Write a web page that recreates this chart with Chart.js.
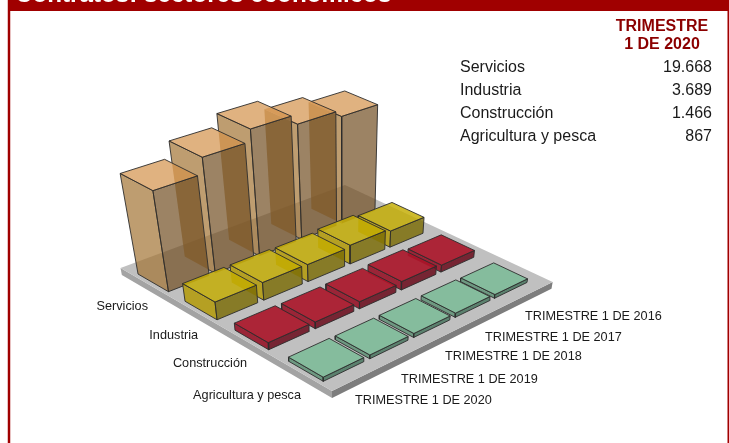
<!DOCTYPE html>
<html><head><meta charset="utf-8">
<style>html,body{margin:0;padding:0;background:#fff}canvas{display:block}</style>
<script src="https://cdn.jsdelivr.net/npm/chart.js@4"></script>
</head><body>
<canvas id="c" width="729" height="443"></canvas>
<script>
const sectors = ["Servicios","Industria","Construcción","Agricultura y pesca"];
const quarters = ["TRIMESTRE 1 DE 2020","TRIMESTRE 1 DE 2019","TRIMESTRE 1 DE 2018","TRIMESTRE 1 DE 2017","TRIMESTRE 1 DE 2016"];
const servicios = [19668,22600,24800,23000,21800];
const industria = [3689,3700,3600,4000,3500];
const construccion = [1466,1400,1500,1800,1500];
const agricultura = [867,800,850,900,800];
const tableValues = ["19.668","3.689","1.466","867"];
const seriesValues = [servicios,industria,construccion,agricultura];

const palette = [
 {top:'rgba(211,146,74,.7)', left:'rgba(162,115,51,.7)', right:'rgba(114,79,34,.7)'},
 {top:'rgba(195,172,0,.82)', left:'rgba(178,152,0,.82)', right:'rgba(122,107,5,.82)'},
 {top:'rgba(170,20,40,.9)', left:'rgba(150,20,40,.9)', right:'rgba(110,20,35,.9)'},
 {top:'rgba(130,188,155,.95)', left:'rgba(105,150,125,.95)', right:'rgba(85,125,105,.95)'}
];

// camera: floor corners and vertical vanishing point (page pixels)
const A=[120.5,268],D=[345,185],C=[552.7,282],B=[332,391],VP=[344,1429];
const gain=4.05e-6, floorDepth=-1500;
const sx=A[0]-D[0]+C[0]-B[0], sy=A[1]-D[1]+C[1]-B[1];
const dx1=D[0]-C[0],dx2=B[0]-C[0],dy1=D[1]-C[1],dy2=B[1]-C[1];
const den=dx1*dy2-dx2*dy1;
const g=(sx*dy2-dx2*sy)/den,h=(dx1*sy-sx*dy1)/den;
const a=D[0]-A[0]+g*D[0],b=B[0]-A[0]+h*B[0],c0=A[0];
const d=D[1]-A[1]+g*D[1],e=B[1]-A[1]+h*B[1],f0=A[1];
function project(u,v,val){
  const X=a*u+b*v+c0-gain*val*VP[0],Y=d*u+e*v+f0-gain*val*VP[1],Z=g*u+h*v+1-gain*val;
  return {x:X/Z,y:Y/Z};
}
const uStart=.017,uPitch=.188,uSize=.163;
const rowNear=[.07,.31,.551,.795],rowFar=[.227,.466,.706,.945];
const stroke='rgba(45,45,45,.9)';
function face(pts,fill,line,masks){
  return {data:pts.concat([pts[0]]),showLine:true,fill:'shape',backgroundColor:fill,frontMasks:masks||[],
    borderColor:line||'rgba(0,0,0,0)',borderWidth:line?1:0,pointRadius:0,pointHoverRadius:0,tension:0};
}
const layers=[];
layers.push(face([project(0,1,0),project(1,1,0),project(1,1,floorDepth),project(0,1,floorDepth)],'#7d7d7d'));
layers.push(face([project(0,0,0),project(0,1,0),project(0,1,floorDepth),project(0,0,floorDepth)],'#a3a3a3'));
layers.push(face([project(0,0,0),project(1,0,0),project(1,1,0),project(0,1,0)],'#c0c0c0'));
// bars, back to front; each bar's edges are hidden behind the bars drawn after it
const bars=[];
sectors.forEach((s,j)=>{
  for(let i=quarters.length-1;i>=0;i--){
    const u0=uStart+i*uPitch,u1=u0+uSize,v0=rowNear[j],v1=rowFar[j],val=seriesValues[j][i];
    bars.push({u0,u1,v0,v1,val,col:palette[j],outline:[project(u0,v0,val),project(u1,v0,val),project(u1,v1,val),project(u1,v1,0),project(u0,v1,0),project(u0,v0,0)]});
  }
});
bars.forEach((r,n)=>{
  const masks=bars.slice(n+1).map(o=>o.outline),{u0,u1,v0,v1,val,col}=r;
  layers.push(face([project(u0,v0,0),project(u0,v1,0),project(u0,v1,val),project(u0,v0,val)],col.left,stroke,masks));
  layers.push(face([project(u0,v1,0),project(u1,v1,0),project(u1,v1,val),project(u0,v1,val)],col.right,stroke,masks));
  layers.push(face([project(u0,v0,val),project(u1,v0,val),project(u1,v1,val),project(u0,v1,val)],col.top,stroke,masks));
});
const sectorLabelAnchors=[[148,306],[198,335],[247,363],[301,395]];
const quarterLabelAnchors=[[355,400],[401,379],[445,356],[485,337],[525,316]];
const frame={
 id:'frame',
 beforeDatasetDraw(ch,args){
  const ds=ch.data.datasets[args.index],x=ch.ctx,sX=ch.scales.x,sY=ch.scales.y;
  x.save();
  ds.frontMasks.forEach(poly=>{
    x.beginPath();x.rect(0,0,ch.width,ch.height);
    poly.forEach((p,k)=>{const px=sX.getPixelForValue(p.x),py=sY.getPixelForValue(p.y);k?x.lineTo(px,py):x.moveTo(px,py);});
    x.closePath();x.clip('evenodd');
  });
 },
 afterDatasetDraw(ch){ch.ctx.restore();},
 beforeDraw(ch){
  const x=ch.ctx;x.save();
  x.fillStyle='rgba(160,0,0,.35)';
  x.fillRect(7.3,0,3.4,443);
  x.fillStyle='#a00000';
  x.fillRect(8,0,721,11);x.fillRect(8,0,2,443);x.fillRect(727.5,0,1.5,443);
  x.restore();
 },
 afterDraw(ch){
  const x=ch.ctx;x.save();
  x.textBaseline='middle';
  x.fillStyle='#fff';x.textAlign='left';x.font='bold 24.2px "Liberation Sans"';
  x.fillText("Contratos: sectores económicos",15,-5);
  x.fillStyle='#8b0000';x.textAlign='center';x.font='bold 16px "Liberation Sans"';
  x.fillText("TRIMESTRE",662,27);x.fillText("1 DE 2020",662,45);
  x.fillStyle='#1a1a1a';x.font='16px "Liberation Sans"';
  sectors.forEach((s,j)=>{
    x.textAlign='left';x.fillText(s,460,68+j*23);
    x.textAlign='right';x.fillText(tableValues[j],712,68+j*23);
  });
  x.font='12.7px "Liberation Sans"';x.textAlign='right';
  sectors.forEach((s,j)=>x.fillText(s,sectorLabelAnchors[j][0],sectorLabelAnchors[j][1]));
  x.textAlign='left';
  quarters.forEach((s,i)=>x.fillText(s,quarterLabelAnchors[i][0],quarterLabelAnchors[i][1]));
  x.restore();
 }
};
new Chart(document.getElementById('c'),{
 type:'scatter',
 data:{datasets:layers.reverse()},
 options:{responsive:false,animation:false,events:[],
  layout:{padding:0},
  plugins:{legend:{display:false},tooltip:{enabled:false}},
  scales:{
   x:{type:'linear',min:0,max:729,display:false},
   y:{type:'linear',min:0,max:443,reverse:true,display:false}
  }},
 plugins:[frame]
});
</script>
</body></html>
